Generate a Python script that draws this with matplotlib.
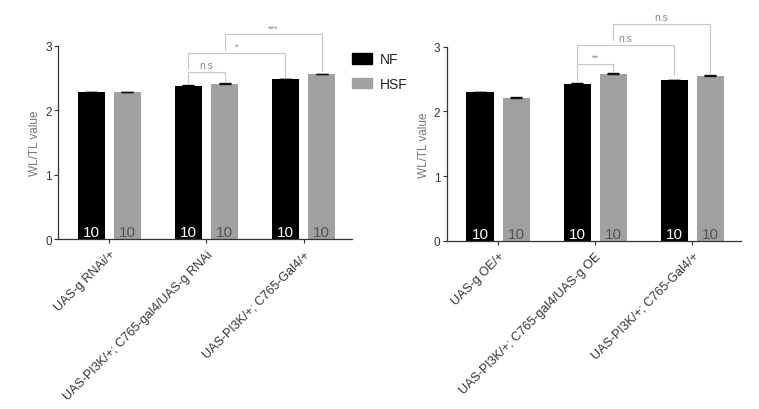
import numpy as np
import matplotlib.pyplot as plt
from matplotlib.patches import Patch

plt.rcParams['font.family'] = ['Liberation Sans', 'DejaVu Sans']

groups_left = ['UAS-g RNAi/+', 'UAS-PI3K/+; C765-gal4/UAS-g RNAi', 'UAS-PI3K/+; C765-Gal4/+']
groups_right = ['UAS-g OE/+', 'UAS-PI3K/+; C765-gal4/UAS-g OE', 'UAS-PI3K/+; C765-Gal4/+']

nf_left = [2.28, 2.38, 2.48]
hsf_left = [2.28, 2.41, 2.56]
nf_left_err = [0.005, 0.012, 0.004]
hsf_left_err = [0.008, 0.01, 0.012]

nf_right = [2.30, 2.42, 2.48]
hsf_right = [2.21, 2.58, 2.55]
nf_right_err = [0.006, 0.012, 0.004]
hsf_right_err = [0.01, 0.012, 0.012]

n_left = [[10, 10, 10], [10, 10, 10]]
n_right = [[10, 10, 10], [10, 10, 10]]

# (group a, series a, group b, series b, bar height, label, leg bottom a, leg bottom b)
brackets_left = [
    (1, 0, 1, 1, 2.59, 'n.s', 2.43, 2.46),
    (1, 0, 2, 0, 2.89, '*', 2.66, 2.51),
    (1, 1, 2, 1, 3.18, '***', 2.94, 2.61),
]
brackets_right = [
    (1, 0, 1, 1, 2.73, '**', 2.47, 2.60),
    (1, 0, 2, 0, 3.02, 'n.s', 2.73, 2.56),
    (1, 1, 2, 1, 3.35, 'n.s', 3.11, 2.60),
]

NF_COL = '#000000'
HSF_COL = '#a0a0a0'
off = 0.186
w = 0.28


def panel(ax, labels, nf, hsf, nf_err, hsf_err, counts, brackets):
    x = np.arange(len(labels))
    ax.bar(x - off, nf, w, color=NF_COL, zorder=2)
    ax.bar(x + off, hsf, w, color=HSF_COL, zorder=2)
    ax.errorbar(x - off, nf, yerr=[np.zeros(3), nf_err], fmt='none', ecolor='black',
                elinewidth=1, capsize=4, capthick=1, zorder=3)
    ax.errorbar(x + off, hsf, yerr=[np.zeros(3), hsf_err], fmt='none', ecolor='#111111',
                elinewidth=1, capsize=4, capthick=1, zorder=3)
    for i in range(len(x)):
        ax.text(x[i] - off, 0.0, str(counts[0][i]), color='white', fontsize=11,
                ha='center', va='bottom', zorder=4)
        ax.text(x[i] + off, 0.0, str(counts[1][i]), color='#555555', fontsize=11,
                ha='center', va='bottom', zorder=4)

    for ga, sa, gb, sb, h, txt, ya, yb in brackets:
        xa = x[ga] + (off if sa else -off)
        xb = x[gb] + (off if sb else -off)
        ax.plot([xa, xa, xb, xb], [ya, h, h, yb], color='#c8c8c8', lw=0.8,
                clip_on=False, zorder=1)
        fs = 7.5 if 'n' in txt else 6.5
        ax.text((xa + xb) / 2, h + 0.03, txt, ha='center', va='bottom',
                fontsize=fs, color='#888888', clip_on=False)

    ax.set_xlim(-0.53, 2.5)
    ax.set_ylim(0, 3)
    ax.set_yticks([0, 1, 2, 3])
    ax.set_xticks(x)
    ax.set_xticklabels(labels, rotation=45, ha='right', va='top',
                       rotation_mode='anchor', fontsize=9, color='#222222')
    ax.tick_params(axis='y', labelsize=8.5, colors='#333333', length=3, width=0.8, pad=1.5)
    ax.tick_params(axis='x', length=3, width=0.8, colors='#333333')
    ax.set_ylabel('WL/TL value', fontsize=8.5, color='#777777', labelpad=3)
    for s in ['top', 'right']:
        ax.spines[s].set_visible(False)
    for s in ['left', 'bottom']:
        ax.spines[s].set_color('#333333')
        ax.spines[s].set_linewidth(0.9)


fig = plt.figure(figsize=(7.59, 4.10), dpi=100)
ax1 = fig.add_axes([0.0764, 0.4146, 0.3874, 0.4708])
ax2 = fig.add_axes([0.5885, 0.4098, 0.3874, 0.4739])

panel(ax1, groups_left, nf_left, hsf_left, nf_left_err, hsf_left_err, n_left, brackets_left)
panel(ax2, groups_right, nf_right, hsf_right, nf_right_err, hsf_right_err, n_right, brackets_right)

handles = [Patch(color=NF_COL), Patch(color=HSF_COL)]
fig.legend(handles, ['NF', 'HSF'], loc='upper left', bbox_to_anchor=(0.447, 0.90),
           frameon=False, fontsize=10, handlelength=1.45, handleheight=0.8,
           handletextpad=0.55, labelspacing=0.75, labelcolor='#222222')

fig.savefig('out.png', dpi=100)
